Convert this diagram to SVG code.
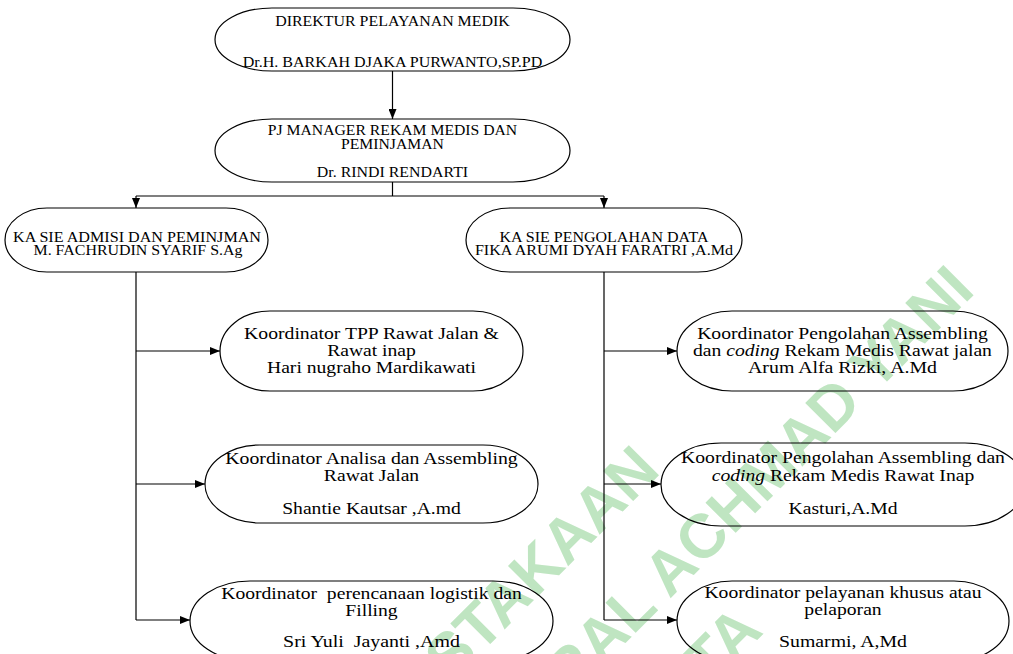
<svg xmlns="http://www.w3.org/2000/svg" width="1013" height="654" viewBox="0 0 1013 654">
<style>
.node{fill:none;stroke:#000;stroke-width:1.2}
.cap{font-family:'Liberation Serif',serif;font-size:14px;fill:#000;text-anchor:middle}
.txt{font-family:'Liberation Serif',serif;font-size:16px;fill:#000;text-anchor:middle}
.it{font-style:italic}
.conn{fill:none;stroke:#000;stroke-width:1.2}
.wm{font-family:'Liberation Sans',sans-serif;font-weight:bold;font-size:62px;fill:#bfe5c1;text-anchor:middle}
</style>
<defs>
<marker id="arr" viewBox="0 0 10 8" refX="10" refY="4" markerWidth="10" markerHeight="8" markerUnits="userSpaceOnUse" orient="auto">
<path d="M0,0 L10,4 L0,8 Z" fill="#000"/>
</marker>
</defs>
<rect width="1013" height="654" fill="#fff"/>
<g id="watermark" transform="rotate(-45)">
<text class="wm" x="-122" y="802">PERPUSTAKAAN</text>
<text class="wm" x="-122" y="897">UNIVERSITAS JENDERAL ACHMAD YANI</text>
<text class="wm" x="-122" y="988">YOGYAKARTA</text>
</g>
<g id="connectors">
<line class="conn" x1="392.5" y1="71" x2="392.5" y2="119" marker-end="url(#arr)"/>
<line class="conn" x1="392.5" y1="182" x2="392.5" y2="196"/>
<line class="conn" x1="136" y1="196" x2="604" y2="196"/>
<line class="conn" x1="136" y1="196" x2="136" y2="208" marker-end="url(#arr)"/>
<line class="conn" x1="604" y1="196" x2="604" y2="208" marker-end="url(#arr)"/>
<line class="conn" x1="136" y1="272" x2="136" y2="620"/>
<line class="conn" x1="136" y1="351" x2="220" y2="351" marker-end="url(#arr)"/>
<line class="conn" x1="136" y1="484" x2="205" y2="484" marker-end="url(#arr)"/>
<line class="conn" x1="136" y1="620" x2="190" y2="620" marker-end="url(#arr)"/>
<line class="conn" x1="604" y1="272" x2="604" y2="620"/>
<line class="conn" x1="604" y1="351" x2="677" y2="351" marker-end="url(#arr)"/>
<line class="conn" x1="604" y1="484" x2="661" y2="484" marker-end="url(#arr)"/>
<line class="conn" x1="604" y1="620" x2="677" y2="620" marker-end="url(#arr)"/>
</g>
<g font-family="Liberation Serif">
<g id="direktur">
<rect class="node" x="215" y="8" width="355" height="63" rx="57" ry="31.5"/>
<text class="cap" x="392.5" y="26" textLength="234.6" lengthAdjust="spacingAndGlyphs">DIREKTUR PELAYANAN MEDIK</text>
<text class="cap" x="392.5" y="67" textLength="299.6" lengthAdjust="spacingAndGlyphs">Dr.H. BARKAH DJAKA PURWANTO,SP.PD</text>
</g>
<g id="manager">
<rect class="node" x="215" y="119" width="355" height="63" rx="57" ry="31.5"/>
<text class="cap" x="392.5" y="135" textLength="249.4" lengthAdjust="spacingAndGlyphs">PJ MANAGER REKAM MEDIS DAN</text>
<text class="cap" x="392.5" y="149" textLength="102.9" lengthAdjust="spacingAndGlyphs">PEMINJAMAN</text>
<text class="cap" x="392.5" y="177" textLength="151.3" lengthAdjust="spacingAndGlyphs">Dr. RINDI RENDARTI</text>
</g>
<g id="kasie-admisi">
<rect class="node" x="5" y="208" width="263" height="64" rx="42" ry="32"/>
<text class="cap" x="137" y="242" textLength="248" lengthAdjust="spacingAndGlyphs">KA SIE ADMISI DAN PEMINJMAN</text>
<text class="cap" x="138" y="255" textLength="209" lengthAdjust="spacingAndGlyphs">M. FACHRUDIN SYARIF S.Ag</text>
</g>
<g id="kasie-pengolahan">
<rect class="node" x="466" y="208" width="276" height="64" rx="44" ry="32"/>
<text class="cap" x="604" y="242" textLength="208.9" lengthAdjust="spacingAndGlyphs">KA SIE PENGOLAHAN DATA</text>
<text class="cap" x="604" y="255" textLength="258.2" lengthAdjust="spacingAndGlyphs">FIKA ARUMI DYAH FARATRI ,A.Md</text>
</g>
<g id="koor-tpp">
<rect class="node" x="220" y="311" width="303" height="80" rx="50" ry="40"/>
<text class="txt" x="371.5" y="339" textLength="254.8" lengthAdjust="spacingAndGlyphs">Koordinator TPP Rawat Jalan &amp;</text>
<text class="txt" x="371.5" y="356" textLength="88.7" lengthAdjust="spacingAndGlyphs">Rawat inap</text>
<text class="txt" x="371.5" y="373" textLength="209" lengthAdjust="spacingAndGlyphs">Hari nugraho Mardikawati</text>
</g>
<g id="koor-analisa">
<rect class="node" x="205" y="445" width="333" height="78" rx="55" ry="39"/>
<text class="txt" x="371.5" y="464" textLength="292.3" lengthAdjust="spacingAndGlyphs">Koordinator Analisa dan Assembling</text>
<text class="txt" x="371.5" y="481" textLength="95.3" lengthAdjust="spacingAndGlyphs">Rawat Jalan</text>
<text class="txt" x="371.5" y="514" textLength="178.6" lengthAdjust="spacingAndGlyphs">Shantie Kautsar ,A.md</text>
</g>
<g id="koor-logistik">
<rect class="node" x="190" y="581" width="363" height="80" rx="60" ry="40"/>
<text class="txt" x="371.5" y="599" textLength="300.5" lengthAdjust="spacingAndGlyphs" xml:space="preserve">Koordinator  perencanaan logistik dan</text>
<text class="txt" x="371.5" y="616" textLength="52.3" lengthAdjust="spacingAndGlyphs">Filling</text>
<text class="txt" x="371.5" y="647" textLength="176.9" lengthAdjust="spacingAndGlyphs" xml:space="preserve">Sri Yuli  Jayanti ,Amd</text>
</g>
<g id="koor-rj">
<rect class="node" x="677" y="311" width="331" height="80" rx="55" ry="40"/>
<text class="txt" x="842.5" y="339" textLength="290.7" lengthAdjust="spacingAndGlyphs">Koordinator Pengolahan Assembling</text>
<text class="txt" x="842.5" y="356" textLength="298.9" lengthAdjust="spacingAndGlyphs">dan <tspan class="it">coding</tspan> Rekam Medis Rawat jalan</text>
<text class="txt" x="842.5" y="373" textLength="188.9" lengthAdjust="spacingAndGlyphs">Arum Alfa Rizki, A.Md</text>
</g>
<g id="koor-ri">
<rect class="node" x="661" y="443" width="364" height="83" rx="60" ry="41.5"/>
<text class="txt" x="843" y="463" textLength="323.9" lengthAdjust="spacingAndGlyphs">Koordinator Pengolahan Assembling dan</text>
<text class="txt" x="843" y="481" textLength="262.4" lengthAdjust="spacingAndGlyphs"><tspan class="it">coding</tspan> Rekam Medis Rawat Inap</text>
<text class="txt" x="843" y="514" textLength="108.9" lengthAdjust="spacingAndGlyphs">Kasturi,A.Md</text>
</g>
<g id="koor-khusus">
<rect class="node" x="677" y="581" width="332" height="80" rx="55" ry="40"/>
<text class="txt" x="843" y="598" textLength="277.1" lengthAdjust="spacingAndGlyphs">Koordinator pelayanan khusus atau</text>
<text class="txt" x="843" y="615" textLength="77.3" lengthAdjust="spacingAndGlyphs">pelaporan</text>
<text class="txt" x="843" y="647" textLength="128" lengthAdjust="spacingAndGlyphs">Sumarmi, A,Md</text>
</g>
</g>
</svg>
